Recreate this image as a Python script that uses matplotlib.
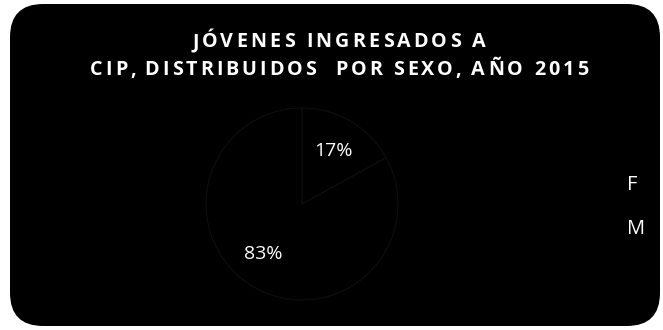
import matplotlib
matplotlib.use("Agg")
import matplotlib.pyplot as plt
from matplotlib.patches import FancyBboxPatch

labels = ["F", "M"]
shares = [17, 83]
pct_text = ["17%", "83%"]
title_lines = ["JÓVENES INGRESADOS A", "CIP, DISTRIBUIDOS  POR SEXO, AÑO 2015"]

W, H = 663, 330

def tracked_text(fig, line, xc, y, width, **kw):
	# draw a line with extra letter spacing so it fills `width` pixels
	r = fig.canvas.get_renderer()
	probe = fig.text(0, 0, "", **kw)
	def wid(s):
		probe.set_text(s + "I")
		return probe.get_window_extent(r).width
	base = wid("")
	natural = wid(line) - base
	track = (width - natural) / (len(line) - 1)
	left = xc - width / 2
	for i, ch in enumerate(line):
		if ch == " ":
			continue
		x = left + (wid(line[:i]) - base) + i * track
		fig.text(x / W, 1 - y / H, ch, ha="left", va="baseline", **kw)
	probe.remove()

def main():
	fig = plt.figure(figsize=(W / 100, H / 100), dpi=100)
	fig.patch.set_facecolor("white")

	# black rounded card behind everything
	card = FancyBboxPatch((10 / W, 4 / H), 650 / W, 322 / H,
		boxstyle="round,pad=0,rounding_size=0.05",
		transform=fig.transFigure, facecolor="black", edgecolor="none",
		mutation_aspect=W / H, zorder=-5)
	fig.patches.append(card)

	tkw = dict(color="white", fontsize=14.2, fontweight="bold", family="Open Sans")
	tracked_text(fig, title_lines[0], 339, 47, 294, **tkw)
	tracked_text(fig, title_lines[1], 339, 75, 498, **tkw)

	ax = fig.add_axes([206 / W, 1 - 300 / H, 192 / W, 192 / H])
	ax.set_facecolor("none")
	wedges, texts = ax.pie(shares, labels=pct_text, startangle=90, counterclock=False,
		colors=["black", "black"], labeldistance=0.64,
		wedgeprops=dict(edgecolor="#0e0e0e", linewidth=0.8),
		textprops=dict(color="white", fontsize=14, family="Open Sans"))
	for t in texts:
		t.set_ha("center")
		t.set_va("center")
	# Excel nudged the big label a bit further round
	x83, y83 = texts[1].get_position()
	texts[1].set_position((x83 - 0.08, y83 + 0.03))
	ax.set_xlim(-1, 1)
	ax.set_ylim(-1, 1)
	ax.set_aspect("equal")

	leg = fig.legend(wedges, labels, loc="center left", bbox_to_anchor=(577 / W, 1 - 207 / H),
		frameon=False, labelcolor="white", labelspacing=1.15,
		handlelength=0.8, handletextpad=0.8,
		prop=dict(family="Open Sans", size=14.5))
	for h in leg.legend_handles:
		h.set_edgecolor("black")

	fig.savefig("out.png", dpi=100, facecolor="white")

if __name__ == '__main__':
	main()
